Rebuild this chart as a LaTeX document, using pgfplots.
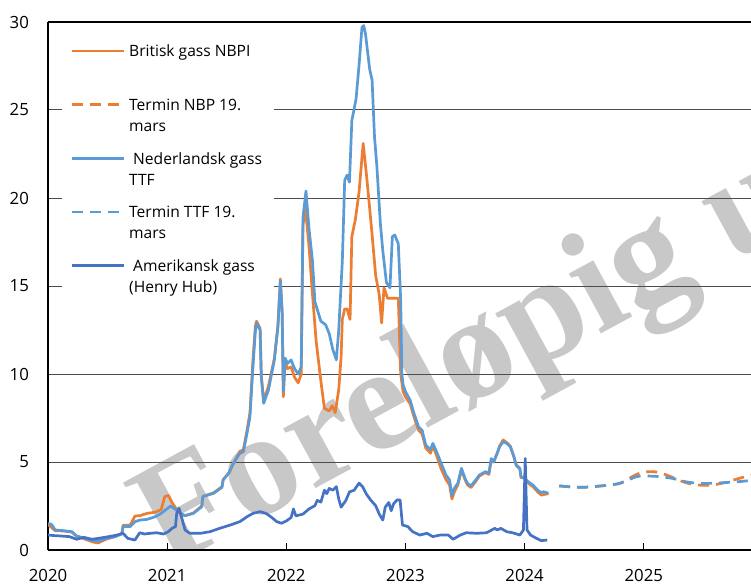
\documentclass[border=0pt]{standalone}
\usepackage{fontspec}
\setmainfont{Open Sans}
\newfontfamily\wmfont{Liberation Serif}
\usepackage{pgfplots}
\pgfplotsset{compat=1.18}
\usepackage{pgfplotstable}
\definecolor{nbp}{RGB}{237,125,49}
\definecolor{ttf}{RGB}{91,155,213}
\definecolor{hh}{RGB}{68,114,196}
\definecolor{wm}{RGB}{200,200,200}

\pgfplotstableread{
x y
2020.00 1.45
2020.06 1.10
2020.13 1.08
2020.20 1.02
2020.24 0.78
2020.31 0.62
2020.38 0.45
2020.42 0.40
2020.49 0.62
2020.56 0.75
2020.62 0.95
2020.63 1.40
2020.69 1.42
2020.73 1.93
2020.77 1.95
2020.83 2.08
2020.90 2.15
2020.95 2.30
2020.98 3.03
2021.01 3.10
2021.04 2.70
2021.07 2.40
2021.11 2.08
2021.15 1.95
2021.22 2.10
2021.29 2.50
2021.30 3.05
2021.39 3.25
2021.46 3.60
2021.47 4.00
2021.52 4.40
2021.555 4.90
2021.61 5.60
2021.64 5.70
2021.67 6.80
2021.695 7.80
2021.72 10.8
2021.74 12.7
2021.75 13.0
2021.78 12.6
2021.79 9.9
2021.81 8.5
2021.85 9.3
2021.90 10.9
2021.93 12.8
2021.95 15.4
2021.965 13.5
2021.975 8.7
2021.99 10.7
2022.01 10.3
2022.04 10.4
2022.07 9.8
2022.10 9.5
2022.125 10.0
2022.14 18.5
2022.16 19.4
2022.19 17.3
2022.22 14.5
2022.25 11.9
2022.29 9.6
2022.32 8.05
2022.36 7.9
2022.385 8.2
2022.41 7.8
2022.44 9.1
2022.46 11.0
2022.47 13.1
2022.49 13.7
2022.51 13.7
2022.535 13.1
2022.55 17.8
2022.58 18.8
2022.61 20.3
2022.645 23.1
2022.67 21.5
2022.69 20.1
2022.715 18.3
2022.75 15.6
2022.78 14.5
2022.80 12.9
2022.82 14.9
2022.85 14.3
2022.875 14.3
2022.91 14.3
2022.94 14.3
2022.96 10.0
2022.98 9.0
2023.00 8.7
2023.04 8.3
2023.07 7.6
2023.11 6.8
2023.14 6.6
2023.17 5.8
2023.21 5.5
2023.23 5.9
2023.26 5.4
2023.30 4.6
2023.34 4.0
2023.37 3.7
2023.39 2.9
2023.41 3.3
2023.44 3.7
2023.47 4.55
2023.50 4.0
2023.52 3.7
2023.55 3.55
2023.59 3.9
2023.62 4.2
2023.67 4.4
2023.70 4.3
2023.72 5.1
2023.74 5.0
2023.77 5.5
2023.79 5.9
2023.82 6.25
2023.85 6.1
2023.88 5.9
2023.91 5.3
2023.93 4.8
2023.96 4.6
2023.97 4.1
2024.00 4.1
2024.03 3.8
2024.07 3.6
2024.11 3.3
2024.14 3.12
2024.16 3.15
2024.20 3.20
}\tNBP

\pgfplotstableread{
x y
2020.00 1.52
2020.03 1.45
2020.06 1.14
2020.13 1.10
2020.20 1.04
2020.24 0.80
2020.31 0.66
2020.38 0.53
2020.42 0.50
2020.49 0.66
2020.56 0.76
2020.62 0.91
2020.63 1.33
2020.69 1.33
2020.73 1.61
2020.77 1.70
2020.83 1.74
2020.90 1.89
2020.95 2.08
2021.00 2.35
2021.03 2.50
2021.07 2.30
2021.11 2.08
2021.15 1.95
2021.22 2.08
2021.29 2.46
2021.30 3.03
2021.39 3.22
2021.46 3.56
2021.47 3.98
2021.52 4.40
2021.555 4.92
2021.61 5.49
2021.64 5.59
2021.67 6.63
2021.695 7.58
2021.72 10.4
2021.74 12.4
2021.75 12.9
2021.78 12.5
2021.79 9.85
2021.81 8.33
2021.85 9.09
2021.90 10.8
2021.93 12.7
2021.95 15.3
2021.965 13.6
2021.975 9.0
2021.99 10.9
2022.01 10.6
2022.04 10.8
2022.07 10.3
2022.10 10.0
2022.125 10.4
2022.14 18.9
2022.165 20.4
2022.19 18.3
2022.22 16.4
2022.24 14.1
2022.29 13.0
2022.33 12.8
2022.36 12.3
2022.39 11.4
2022.42 10.8
2022.44 12.5
2022.47 16.4
2022.49 21.0
2022.51 21.3
2022.53 20.9
2022.55 24.4
2022.585 25.6
2022.61 27.5
2022.635 29.7
2022.65 29.8
2022.665 29.3
2022.70 27.3
2022.72 26.7
2022.74 23.5
2022.76 21.8
2022.79 18.5
2022.81 17.0
2022.84 15.2
2022.87 14.9
2022.89 17.8
2022.91 17.9
2022.94 17.4
2022.96 14.2
2022.97 10.0
2022.98 9.4
2023.00 9.0
2023.04 8.5
2023.07 7.8
2023.11 7.0
2023.14 6.8
2023.17 5.97
2023.21 5.7
2023.23 6.06
2023.26 5.6
2023.30 4.92
2023.34 4.26
2023.37 3.98
2023.39 3.10
2023.41 3.5
2023.44 3.8
2023.47 4.64
2023.50 4.07
2023.52 3.79
2023.55 3.64
2023.59 3.98
2023.62 4.26
2023.67 4.45
2023.70 4.36
2023.72 5.2
2023.74 5.0
2023.77 5.5
2023.79 5.87
2023.82 6.15
2023.85 6.06
2023.88 5.87
2023.91 5.3
2023.93 4.83
2023.96 4.64
2023.97 4.17
2024.00 4.07
2024.03 3.88
2024.07 3.69
2024.11 3.40
2024.14 3.26
2024.16 3.31
2024.20 3.22
}\tTTF

\pgfplotstableread{
x y
2020.00 0.85
2020.05 0.82
2020.10 0.80
2020.18 0.76
2020.24 0.61
2020.30 0.72
2020.37 0.61
2020.44 0.68
2020.51 0.76
2020.58 0.85
2020.63 0.95
2020.67 0.66
2020.73 0.57
2020.77 0.98
2020.81 0.91
2020.86 0.95
2020.91 0.98
2020.97 0.91
2021.01 1.04
2021.04 1.23
2021.07 1.33
2021.08 2.08
2021.10 2.37
2021.12 1.89
2021.15 1.14
2021.19 0.95
2021.28 0.95
2021.36 1.04
2021.44 1.23
2021.53 1.42
2021.61 1.61
2021.67 1.89
2021.72 2.08
2021.78 2.18
2021.83 2.08
2021.87 1.89
2021.92 1.61
2021.96 1.52
2022.00 1.65
2022.04 1.84
2022.06 2.33
2022.08 1.94
2022.14 2.04
2022.19 2.33
2022.24 2.52
2022.26 2.82
2022.29 2.72
2022.32 3.40
2022.34 3.20
2022.36 3.50
2022.39 3.40
2022.42 3.60
2022.44 2.90
2022.46 2.43
2022.50 2.82
2022.53 3.30
2022.57 3.40
2022.61 3.80
2022.64 3.60
2022.67 3.20
2022.71 2.82
2022.75 2.52
2022.78 2.04
2022.81 1.70
2022.83 2.43
2022.86 2.70
2022.88 2.23
2022.90 2.62
2022.93 2.85
2022.955 2.84
2022.975 1.42
2023.02 1.33
2023.06 1.04
2023.12 0.85
2023.18 0.95
2023.23 0.76
2023.29 0.85
2023.36 0.85
2023.40 0.61
2023.46 0.85
2023.51 0.98
2023.60 0.95
2023.68 0.98
2023.75 1.23
2023.77 1.14
2023.80 1.23
2023.85 1.04
2023.90 0.98
2023.96 0.85
2023.99 1.14
2024.005 5.2
2024.02 1.14
2024.05 0.85
2024.10 0.66
2024.14 0.53
2024.19 0.57
}\tHH

\pgfplotstableread{
x y
2024.29 3.64
2024.47 3.56
2024.64 3.64
2024.80 3.79
2024.94 4.30
2025.04 4.45
2025.13 4.40
2025.24 4.13
2025.35 3.83
2025.46 3.69
2025.57 3.69
2025.68 3.83
2025.79 4.05
2025.90 4.25
}\fNBP

\pgfplotstableread{
x y
2024.29 3.64
2024.47 3.56
2024.64 3.64
2024.80 3.79
2024.94 4.17
2025.04 4.20
2025.13 4.17
2025.24 4.07
2025.35 3.88
2025.46 3.79
2025.57 3.79
2025.68 3.83
2025.79 3.88
2025.90 3.95
}\fTTF

\begin{document}
\begin{tikzpicture}
\begin{axis}[
  set layers,
  scale only axis, width=351.5pt, height=264pt,
  xmin=2020, xmax=2025.9, ymin=0, ymax=30,
  axis x line*=bottom, axis y line*=left,
  axis line style={black, line width=0.9pt},
  xtick={2020,2021,2022,2023,2024,2025}, ytick={0,5,10,15,20,25,30},
  tick align=inside, major tick length=3.5pt,
  xtick style={black, line width=0.6pt},
  ytick style={draw=none},
  ymajorgrids, grid style={black!70, line width=0.5pt},
  /pgf/number format/assume math mode=true,
  x tick label style={/pgf/number format/1000 sep={}, yshift=-6.3pt},
  y tick label style={xshift=-6pt},
  tick label style={font=\fontsize{8.4}{10}\selectfont},
  legend cell align=left,
  legend image code/.code={\draw[#1] (0pt,5.25pt) -- (26pt,5.25pt);},
  legend style={at={(0.02,0.978)}, anchor=north west, draw=none, fill=white,
    font=\fontsize{7.8}{10.5}\selectfont, row sep=3.5pt, inner xsep=4pt, inner ysep=2pt,
    column sep=0pt, cells={align=left, inner ysep=0pt, inner xsep=3pt}},
]
\begin{pgfonlayer}{axis background}
\begin{scope}
\clip (rel axis cs:0,0) rectangle (rel axis cs:1,1);
\node[rotate=28.5, anchor=base west, text=wm, inner sep=0pt,
  font=\wmfont\bfseries\fontsize{74}{80}\selectfont] at (axis cs:2021.0,-1.1) {Foreløpig utgave};
\end{scope}
\end{pgfonlayer}

\addplot[nbp, line width=1.35pt, line join=round] table {\tNBP};
\addlegendentry{\strut Britisk gass NBPI\\\strut}
\addplot[nbp, line width=1.35pt, dash pattern=on 5.5pt off 3.5pt, smooth] table {\fNBP};
\addlegendentry{\strut Termin NBP 19.\\\strut mars}
\addplot[ttf, line width=1.35pt, line join=round] table {\tTTF};
\addlegendentry{\strut\ Nederlandsk gass\\\strut TTF}
\addplot[ttf, line width=1.35pt, dash pattern=on 5.5pt off 3.5pt, smooth] table {\fTTF};
\addlegendentry{\strut Termin TTF 19.\\\strut mars}
\addplot[hh, line width=1.35pt, line join=round] table {\tHH};
\addlegendentry{\strut\ Amerikansk gass\\\strut (Henry Hub)}

\draw[black, line width=0.9pt] (rel axis cs:0,1) -- (rel axis cs:1,1);
\end{axis}
\pgfresetboundingbox
\path[use as bounding box] ([xshift=-24pt,yshift=-16.5pt]current axis.south west) rectangle ([yshift=11pt]current axis.north east);
\end{tikzpicture}
\end{document}
